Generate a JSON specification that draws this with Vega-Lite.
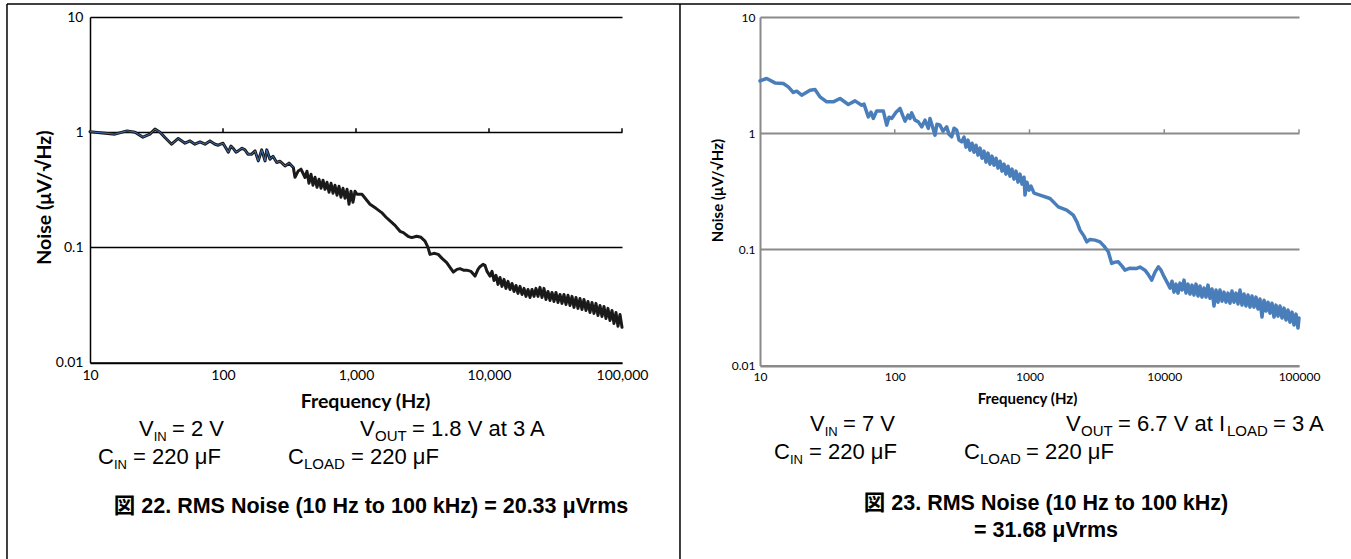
{
"$schema": "https://vega.github.io/schema/vega-lite/v6.json",
"autosize": "none",
"padding": {"left": 90, "top": 17, "right": 1261, "bottom": 542},
"background": "white",
"bounds": "flush",
"spacing": 138,
"config": {"view": {"stroke": null}, "font": "Lato"},
"data": {"values": [{"note": "annotation"}]},
"datasets": {
"left": [
{"f":10,"n":1.010},{"f":11.9,"n":0.990},{"f":15.4,"n":0.961},{"f":19.0,"n":1.026},{"f":21.8,"n":1.0},{"f":25.0,"n":0.905},{"f":28.2,"n":0.961},{"f":30.8,"n":1.062},{"f":33.6,"n":1.0},{"f":36.6,"n":0.899},{"f":41.1,"n":0.786},{"f":46.1,"n":0.882},{"f":51.8,"n":0.802},{"f":56.5,"n":0.840},{"f":61.5,"n":0.786},{"f":67.2,"n":0.823},{"f":73.2,"n":0.786},{"f":79.8,"n":0.840},{"f":87.1,"n":0.786},{"f":92.2,"n":0.770},{"f":100,"n":0.802},{"f":105.4,"n":0.726},{"f":109.7,"n":0.670},{"f":114.8,"n":0.756},{"f":119.5,"n":0.722},{"f":125.2,"n":0.670},{"f":130.3,"n":0.688},{"f":139,"n":0.726},{"f":146.3,"n":0.702},{"f":154,"n":0.644},{"f":164.4,"n":0.644},{"f":174.2,"n":0.688},{"f":184.2,"n":0.563},{"f":195.4,"n":0.702},{"f":207,"n":0.563},{"f":213.2,"n":0.702},{"f":225.5,"n":0.582},{"f":237.7,"n":0.618},{"f":253.5,"n":0.545},{"f":268.5,"n":0.559},{"f":292.7,"n":0.509},{"f":313.6,"n":0.538},{"f":337.9,"n":0.493},{"f":347.7,"n":0.406},{"f":368.2,"n":0.461},{"f":385.8,"n":0.477},{"f":413.7,"n":0.404},
{"f":428,"n":0.458},{"f":443,"n":0.360},{"f":459,"n":0.431},{"f":475,"n":0.346},{"f":492,"n":0.406},{"f":509,"n":0.332},{"f":527,"n":0.390},{"f":546,"n":0.326},{"f":565,"n":0.383},{"f":585,"n":0.319},{"f":605,"n":0.367},{"f":627,"n":0.301},{"f":649,"n":0.360},{"f":672,"n":0.295},{"f":695,"n":0.346},{"f":720,"n":0.283},{"f":745,"n":0.339},{"f":771,"n":0.272},{"f":798,"n":0.326},{"f":827,"n":0.267},{"f":856,"n":0.319},{"f":886,"n":0.2365},{"f":917,"n":0.307},{"f":949,"n":0.246},{"f":983,"n":0.307},{"f":1018,"n":0.289},
{"f":1109,"n":0.289},{"f":1274,"n":0.2365},{"f":1413,"n":0.218},{"f":1560,"n":0.2003},{"f":1682,"n":0.1824},{"f":1803,"n":0.1694},{"f":1965,"n":0.1552},{"f":2142,"n":0.1377},{"f":2269,"n":0.1342},{"f":2461,"n":0.1247},{"f":2624,"n":0.1215},{"f":2860,"n":0.1247},{"f":3080,"n":0.1222},{"f":3302,"n":0.1134},{"f":3477,"n":0.1},{"f":3599,"n":0.0869},{"f":3857,"n":0.0887},{"f":4155,"n":0.0869},{"f":4433,"n":0.0802},{"f":4808,"n":0.0736},{"f":5093,"n":0.0670},{"f":5395,"n":0.0610},{"f":5746,"n":0.0644},{"f":6053,"n":0.0653},{"f":6487,"n":0.0631},{"f":6797,"n":0.0634},{"f":7324,"n":0.0618},{"f":7850,"n":0.0563},{"f":8265,"n":0.0644},{"f":8557,"n":0.0679},{"f":9016,"n":0.0711},{"f":9333,"n":0.0697},{"f":9669,"n":0.0618},{"f":10185,"n":0.0563},
{"f":10534,"n":0.0618},{"f":10904,"n":0.0516},{"f":11287,"n":0.0571},{"f":11686,"n":0.0477},{"f":12094,"n":0.0548},{"f":12520,"n":0.0458},{"f":12963,"n":0.0527},{"f":13418,"n":0.0440},{"f":13895,"n":0.0506},{"f":14383,"n":0.0431},{"f":14891,"n":0.0486},{"f":15417,"n":0.0414},{"f":15959,"n":0.0467},{"f":16519,"n":0.0398},{"f":17104,"n":0.0458},{"f":17706,"n":0.0390},{"f":18334,"n":0.0440},{"f":18976,"n":0.0375},{"f":19643,"n":0.0431},{"f":20336,"n":0.0367},{"f":21052,"n":0.0431},{"f":21793,"n":0.0375},{"f":22562,"n":0.0440},{"f":23357,"n":0.0375},{"f":24180,"n":0.0449},{"f":25030,"n":0.0367},{"f":25911,"n":0.0440},{"f":26827,"n":0.0353},{"f":27771,"n":0.0414},{"f":28746,"n":0.0346},{"f":29760,"n":0.0406},{"f":30808,"n":0.0339},{"f":31898,"n":0.0406},{"f":33020,"n":0.0332},{"f":34180,"n":0.0390},{"f":35388,"n":0.0326},{"f":36633,"n":0.0390},{"f":37921,"n":0.0319},{"f":39262,"n":0.0383},{"f":40644,"n":0.0313},{"f":42076,"n":0.0375},{"f":43556,"n":0.0301},{"f":45087,"n":0.0367},{"f":46680,"n":0.0295},{"f":48323,"n":0.0360},{"f":50023,"n":0.0289},{"f":51790,"n":0.0353},{"f":53610,"n":0.0283},{"f":55503,"n":0.0339},{"f":57456,"n":0.0272},{"f":59475,"n":0.0332},{"f":61577,"n":0.0267},{"f":63743,"n":0.0326},{"f":65983,"n":0.0256},{"f":68313,"n":0.0313},{"f":70717,"n":0.0251},{"f":73214,"n":0.0307},{"f":75791,"n":0.0241},{"f":78455,"n":0.0295},{"f":81226,"n":0.0232},{"f":84084,"n":0.0283},{"f":87040,"n":0.0218},{"f":90114,"n":0.0272},{"f":93285,"n":0.0206},{"f":96605,"n":0.0261},{"f":100000,"n":0.0202}
],
"right": [
{"f":10,"n":2.819},{"f":11.21,"n":2.956},{"f":12.92,"n":2.709},{"f":14.89,"n":2.677},{"f":16.22,"n":2.503},{"f":17.67,"n":2.240},{"f":18.73,"n":2.298},{"f":20.39,"n":2.123},{"f":23.5,"n":2.345},{"f":25.6,"n":2.378},{"f":27.88,"n":2.053},{"f":31.26,"n":1.860},{"f":34.99,"n":1.860},{"f":39.25,"n":1.989},{"f":45.22,"n":1.766},{"f":50.7,"n":1.897},{"f":56.85,"n":1.742},{"f":59.13,"n":1.777},{"f":63.65,"n":1.381},{"f":66.65,"n":1.516},{"f":69.32,"n":1.338},{"f":73.45,"n":1.555},{"f":82.22,"n":1.555},{"f":87.15,"n":1.172},{"f":90.65,"n":1.373},{"f":94.93,"n":1.338},{"f":102.2,"n":1.516},{"f":109.4,"n":1.632},{"f":115.1,"n":1.400},{"f":119.2,"n":1.268},{"f":125.4,"n":1.428},{"f":129.8,"n":1.338},{"f":133.6,"n":1.495},{"f":141.4,"n":1.294},{"f":149.6,"n":1.251},{"f":158.5,"n":1.133},{"f":167.7,"n":1.294},{"f":177.4,"n":1.098},{"f":182.6,"n":1.338},{"f":192.2,"n":1.104},{"f":198.9,"n":0.961},{"f":205.8,"n":1.195},{"f":216.7,"n":1.172},{"f":228.1,"n":1.040},{"f":242.9,"n":1.133},{"f":252.6,"n":0.980},{"f":264.6,"n":0.929},{"f":275.4,"n":1.104},{"f":288.4,"n":1.061},{"f":299.9,"n":0.871},{"f":313.9,"n":0.841},
{"f":326.5,"n":0.924},{"f":337.9,"n":0.758},{"f":349.7,"n":0.871},{"f":361.8,"n":0.714},{"f":374.4,"n":0.820},{"f":387.4,"n":0.686},{"f":400.9,"n":0.788},{"f":414.8,"n":0.647},{"f":429.3,"n":0.743},{"f":444.2,"n":0.609},{"f":459.6,"n":0.700},{"f":475.6,"n":0.563},{"f":492.1,"n":0.673},{"f":509.2,"n":0.541},{"f":526.9,"n":0.634},{"f":545.2,"n":0.530},{"f":564.2,"n":0.609},{"f":583.8,"n":0.500},{"f":604.1,"n":0.574},{"f":625.1,"n":0.471},{"f":646.9,"n":0.541},{"f":669.3,"n":0.444},{"f":692.5,"n":0.520},{"f":716.6,"n":0.426},{"f":741.6,"n":0.490},{"f":767.4,"n":0.402},{"f":794,"n":0.471},{"f":821.7,"n":0.379},{"f":850.2,"n":0.444},{"f":879.6,"n":0.364},{"f":910.3,"n":0.418},{"f":926,"n":0.293},{"f":958.1,"n":0.379},{"f":991.5,"n":0.323},{"f":1026,"n":0.350},{"f":1080,"n":0.305},
{"f":1197,"n":0.293},{"f":1420,"n":0.274},{"f":1636,"n":0.232},{"f":1889,"n":0.2175},{"f":2113,"n":0.197},{"f":2252,"n":0.1714},{"f":2370,"n":0.1463},{"f":2539,"n":0.1299},{"f":2659,"n":0.1160},{"f":2812,"n":0.1217},{"f":3063,"n":0.1200},{"f":3336,"n":0.1160},{"f":3573,"n":0.1066},{"f":3844,"n":0.0952},{"f":4074,"n":0.0756},{"f":4310,"n":0.0776},{"f":4560,"n":0.0781},{"f":4860,"n":0.0717},{"f":5112,"n":0.0662},{"f":5569,"n":0.0689},{"f":6245,"n":0.0685},{"f":6607,"n":0.0703},{"f":7196,"n":0.0662},{"f":7575,"n":0.0612},{"f":8070,"n":0.0543},{"f":8540,"n":0.0637},{"f":9036,"n":0.0707},{"f":9461,"n":0.0662},{"f":9838,"n":0.0600},{"f":10481,"n":0.0522},
{"f":11033,"n":0.0464},{"f":11416,"n":0.0532},{"f":11814,"n":0.0428},{"f":12224,"n":0.0502},{"f":12647,"n":0.0420},{"f":13090,"n":0.0512},{"f":13544,"n":0.0446},{"f":14016,"n":0.0543},{"f":14502,"n":0.0420},{"f":15008,"n":0.0502},{"f":15529,"n":0.0412},{"f":16067,"n":0.0492},{"f":16627,"n":0.0404},{"f":17204,"n":0.0502},{"f":17804,"n":0.0396},{"f":18422,"n":0.0483},{"f":19061,"n":0.0388},{"f":19724,"n":0.0464},{"f":20408,"n":0.0388},{"f":21120,"n":0.0492},{"f":21852,"n":0.0380},{"f":22614,"n":0.0455},{"f":23398,"n":0.0325},{"f":24210,"n":0.0446},{"f":25053,"n":0.0351},{"f":25923,"n":0.0446},{"f":26827,"n":0.0358},{"f":27758,"n":0.0428},{"f":28726,"n":0.0351},{"f":29722,"n":0.0420},{"f":30753,"n":0.0344},{"f":31824,"n":0.0437},{"f":32928,"n":0.0351},{"f":34075,"n":0.0420},{"f":35258,"n":0.0338},{"f":36485,"n":0.0446},{"f":37751,"n":0.0331},{"f":39062,"n":0.0412},{"f":40423,"n":0.0325},{"f":41826,"n":0.0404},{"f":43282,"n":0.0318},{"f":44784,"n":0.0396},{"f":46338,"n":0.0318},{"f":47952,"n":0.0388},{"f":49616,"n":0.0306},{"f":51345,"n":0.0373},{"f":53126,"n":0.0261},{"f":54977,"n":0.0365},{"f":56885,"n":0.0294},{"f":58859,"n":0.0351},{"f":60910,"n":0.0282},{"f":63024,"n":0.0344},{"f":65220,"n":0.0261},{"f":67483,"n":0.0331},{"f":69835,"n":0.0266},{"f":72259,"n":0.0325},{"f":74766,"n":0.0256},{"f":77371,"n":0.0312},{"f":80055,"n":0.0246},{"f":82846,"n":0.0300},{"f":85720,"n":0.0236},{"f":88707,"n":0.0288},{"f":91821,"n":0.0223},{"f":95003,"n":0.0277},{"f":98311,"n":0.0210},{"f":100000,"n":0.0256}
],
"decades": [{"f":100},{"f":1000},{"f":10000},{"f":100000}]
},
"hconcat": [
{
"width": 532, "height": 345.5,
"layer": [
{"data":{"name":"left"},"mark":{"type":"line","color":"#1a1a1a","strokeWidth":3,"strokeJoin":"round","strokeCap":"round"},
"encoding":{
"x":{"field":"f","type":"quantitative","scale":{"type":"log","domain":[10,100000]},"axis":{"values":[10,100,1000,10000,100000],"format":",","grid":false,"ticks":false,"domainColor":"black","domainWidth":1.5,"labelFont":"Lato","labelFontSize":14,"labelColor":"black","labelPadding":6,"labelFlush":false,"labelOverlap":false,"title":"Frequency (Hz)","titleFont":"Lato","titleFontSize":19.5,"titleFontWeight":"bold","titleColor":"black","titleX":275,"titleY":39,"titleAlign":"center","titleBaseline":"middle"}},
"y":{"field":"n","type":"quantitative","scale":{"type":"log","domain":[0.01,10]},"axis":{"values":[0.01,0.1,1,10],"format":"~g","grid":true,"gridColor":"black","gridWidth":1.5,"ticks":false,"domainColor":"black","domainWidth":1.5,"labelFont":"Lato","labelFontSize":14,"labelColor":"black","labelPadding":7,"labelOverlap":false,"title":"Noise  (μV/√Hz)","titleFont":"Lato","titleFontSize":19.5,"titleFontWeight":"bold","titleColor":"black","titleX":-46,"titleY":180,"titleAngle":-90,"titleAlign":"center","titleBaseline":"middle"}}
}},
{"data":{"name":"left"},"transform":[{"filter":"datum.f < 340"}],"mark":{"type":"line","color":"#3d6fb6","strokeWidth":1},
"encoding":{"x":{"field":"f","type":"quantitative","scale":{"type":"log","domain":[10,100000]}},"y":{"field":"n","type":"quantitative","scale":{"type":"log","domain":[0.01,10]}}}},
{"data":{"name":"decades"},"mark":{"type":"rule","color":"black","strokeWidth":1.5},
"encoding":{"x":{"field":"f","type":"quantitative","scale":{"type":"log","domain":[10,100000]}},"y":{"datum":1,"type":"quantitative","scale":{"type":"log","domain":[0.01,10]}},"y2":{"datum":1.08}}},
{"mark":{"type":"rule","color":"black","strokeWidth":1.5},"encoding":{"x":{"datum":2.376,"type":"quantitative","scale":{"type":"log","domain":[10,100000]}},"y":{"datum":12.97,"type":"quantitative","scale":{"type":"log","domain":[0.01,10]}},"y2":{"datum":0.0000867}}},
{"mark":{"type":"rule","color":"black","strokeWidth":1.5},"encoding":{"x":{"datum":2.376,"type":"quantitative","scale":{"type":"log","domain":[10,100000]}},"x2":{"datum":272900},"y":{"datum":12.97,"type":"quantitative","scale":{"type":"log","domain":[0.01,10]}}}},
{"mark":{"type":"rule","color":"black","strokeWidth":1.5},"encoding":{"x":{"datum":272900,"type":"quantitative","scale":{"type":"log","domain":[10,100000]}},"y":{"datum":12.97,"type":"quantitative","scale":{"type":"log","domain":[0.01,10]}},"y2":{"datum":0.0000867}}},
{"mark":{"type":"text","text":"V","align":"left","baseline":"alphabetic","font":"Liberation Sans","fontSize":22,"color":"black"},"encoding":{"x":{"datum":23.36,"type":"quantitative","scale":{"type":"log","domain":[10,100000]}},"y":{"datum":0.002301,"type":"quantitative","scale":{"type":"log","domain":[0.01,10]}}}},
{"mark":{"type":"text","text":"IN","align":"left","baseline":"alphabetic","font":"Liberation Sans","fontSize":13,"dy":5,"color":"black"},"encoding":{"x":{"datum":30.1,"type":"quantitative","scale":{"type":"log","domain":[10,100000]}},"y":{"datum":0.002301,"type":"quantitative","scale":{"type":"log","domain":[0.01,10]}}}},
{"mark":{"type":"text","text":"= 2 V","align":"left","baseline":"alphabetic","font":"Liberation Sans","fontSize":22,"color":"black"},"encoding":{"x":{"datum":41.35,"type":"quantitative","scale":{"type":"log","domain":[10,100000]}},"y":{"datum":0.002301,"type":"quantitative","scale":{"type":"log","domain":[0.01,10]}}}},
{"mark":{"type":"text","text":"V","align":"left","baseline":"alphabetic","font":"Liberation Sans","fontSize":22,"color":"black"},"encoding":{"x":{"datum":1072,"type":"quantitative","scale":{"type":"log","domain":[10,100000]}},"y":{"datum":0.002301,"type":"quantitative","scale":{"type":"log","domain":[0.01,10]}}}},
{"mark":{"type":"text","text":"OUT","align":"left","baseline":"alphabetic","font":"Liberation Sans","fontSize":15,"dy":5,"color":"black"},"encoding":{"x":{"datum":1390,"type":"quantitative","scale":{"type":"log","domain":[10,100000]}},"y":{"datum":0.002301,"type":"quantitative","scale":{"type":"log","domain":[0.01,10]}}}},
{"mark":{"type":"text","text":"= 1.8 V at 3 A","align":"left","baseline":"alphabetic","font":"Liberation Sans","fontSize":22,"color":"black"},"encoding":{"x":{"datum":2637,"type":"quantitative","scale":{"type":"log","domain":[10,100000]}},"y":{"datum":0.002301,"type":"quantitative","scale":{"type":"log","domain":[0.01,10]}}}},
{"mark":{"type":"text","text":"C","align":"left","baseline":"alphabetic","font":"Liberation Sans","fontSize":22,"color":"black"},"encoding":{"x":{"datum":11.49,"type":"quantitative","scale":{"type":"log","domain":[10,100000]}},"y":{"datum":0.001315,"type":"quantitative","scale":{"type":"log","domain":[0.01,10]}}}},
{"mark":{"type":"text","text":"IN","align":"left","baseline":"alphabetic","font":"Liberation Sans","fontSize":13,"dy":5,"color":"black"},"encoding":{"x":{"datum":15.15,"type":"quantitative","scale":{"type":"log","domain":[10,100000]}},"y":{"datum":0.001315,"type":"quantitative","scale":{"type":"log","domain":[0.01,10]}}}},
{"mark":{"type":"text","text":"= 220 μF","align":"left","baseline":"alphabetic","font":"Liberation Sans","fontSize":22,"color":"black"},"encoding":{"x":{"datum":21.05,"type":"quantitative","scale":{"type":"log","domain":[10,100000]}},"y":{"datum":0.001315,"type":"quantitative","scale":{"type":"log","domain":[0.01,10]}}}},
{"mark":{"type":"text","text":"C","align":"left","baseline":"alphabetic","font":"Liberation Sans","fontSize":22,"color":"black"},"encoding":{"x":{"datum":308.1,"type":"quantitative","scale":{"type":"log","domain":[10,100000]}},"y":{"datum":0.001315,"type":"quantitative","scale":{"type":"log","domain":[0.01,10]}}}},
{"mark":{"type":"text","text":"LOAD","align":"left","baseline":"alphabetic","font":"Liberation Sans","fontSize":15,"dy":5,"color":"black"},"encoding":{"x":{"datum":406.4,"type":"quantitative","scale":{"type":"log","domain":[10,100000]}},"y":{"datum":0.001315,"type":"quantitative","scale":{"type":"log","domain":[0.01,10]}}}},
{"mark":{"type":"text","text":"= 220 μF","align":"left","baseline":"alphabetic","font":"Liberation Sans","fontSize":22,"color":"black"},"encoding":{"x":{"datum":917,"type":"quantitative","scale":{"type":"log","domain":[10,100000]}},"y":{"datum":0.001315,"type":"quantitative","scale":{"type":"log","domain":[0.01,10]}}}},
{"mark":{"type":"text","text":"図 22. RMS Noise (10 Hz to 100 kHz) = 20.33 μVrms","align":"center","baseline":"alphabetic","font":"Liberation Sans, Noto Sans CJK JP","fontSize":21.5,"fontWeight":"bold","color":"black"},"encoding":{"x":{"datum":1297,"type":"quantitative","scale":{"type":"log","domain":[10,100000]}},"y":{"datum":0.000494,"type":"quantitative","scale":{"type":"log","domain":[0.01,10]}}}}
]
},
{
"width": 539, "height": 348.5,
"layer": [
{"data":{"name":"right"},"mark":{"type":"line","color":"#4a7ebb","strokeWidth":3.5,"strokeJoin":"round","strokeCap":"round"},
"encoding":{
"x":{"field":"f","type":"quantitative","scale":{"type":"log","domain":[10,100000]},"axis":{"values":[10,100,1000,10000,100000],"format":"d","grid":false,"ticks":false,"domainColor":"#8a8a8a","domainWidth":2,"labelFont":"Lato","labelFontSize":12,"labelColor":"black","labelPadding":6,"labelFlush":false,"labelOverlap":false,"title":"Frequency (Hz)","titleFont":"Lato","titleFontSize":15,"titleFontWeight":"bold","titleColor":"black","titleX":267,"titleY":33,"titleAlign":"center","titleBaseline":"middle"}},
"y":{"field":"n","type":"quantitative","scale":{"type":"log","domain":[0.01,10]},"axis":{"values":[0.01,0.1,1,10],"format":"~g","grid":true,"gridColor":"#8a8a8a","gridWidth":2,"ticks":false,"domainColor":"#8a8a8a","domainWidth":2,"labelFont":"Lato","labelFontSize":12,"labelColor":"black","labelPadding":5,"labelOverlap":false,"title":"Noise (μV/√Hz)","titleFont":"Lato","titleFontSize":15,"titleFontWeight":"bold","titleColor":"black","titleX":-43,"titleY":173,"titleAngle":-90,"titleAlign":"center","titleBaseline":"middle"}}
}},
{"data":{"name":"decades"},"mark":{"type":"rule","color":"#8a8a8a","strokeWidth":1.5},
"encoding":{"x":{"field":"f","type":"quantitative","scale":{"type":"log","domain":[10,100000]}},"y":{"datum":1,"type":"quantitative","scale":{"type":"log","domain":[0.01,10]}},"y2":{"datum":1.08}}},
{"mark":{"type":"rule","color":"black","strokeWidth":1.5},"encoding":{"x":{"datum":2.549,"type":"quantitative","scale":{"type":"log","domain":[10,100000]}},"x2":{"datum":243200},"y":{"datum":12.94,"type":"quantitative","scale":{"type":"log","domain":[0.01,10]}}}},
{"mark":{"type":"text","text":"V","align":"left","baseline":"alphabetic","font":"Liberation Sans","fontSize":22,"color":"black"},"encoding":{"x":{"datum":23.5,"type":"quantitative","scale":{"type":"log","domain":[10,100000]}},"y":{"datum":0.00273,"type":"quantitative","scale":{"type":"log","domain":[0.01,10]}}}},
{"mark":{"type":"text","text":"IN","align":"left","baseline":"alphabetic","font":"Liberation Sans","fontSize":13,"dy":5,"color":"black"},"encoding":{"x":{"datum":30.2,"type":"quantitative","scale":{"type":"log","domain":[10,100000]}},"y":{"datum":0.00273,"type":"quantitative","scale":{"type":"log","domain":[0.01,10]}}}},
{"mark":{"type":"text","text":"= 7 V","align":"left","baseline":"alphabetic","font":"Liberation Sans","fontSize":22,"color":"black"},"encoding":{"x":{"datum":41.3,"type":"quantitative","scale":{"type":"log","domain":[10,100000]}},"y":{"datum":0.00273,"type":"quantitative","scale":{"type":"log","domain":[0.01,10]}}}},
{"mark":{"type":"text","text":"V","align":"left","baseline":"alphabetic","font":"Liberation Sans","fontSize":22,"color":"black"},"encoding":{"x":{"datum":1866,"type":"quantitative","scale":{"type":"log","domain":[10,100000]}},"y":{"datum":0.00273,"type":"quantitative","scale":{"type":"log","domain":[0.01,10]}}}},
{"mark":{"type":"text","text":"OUT","align":"left","baseline":"alphabetic","font":"Liberation Sans","fontSize":15,"dy":5,"color":"black"},"encoding":{"x":{"datum":2412,"type":"quantitative","scale":{"type":"log","domain":[10,100000]}},"y":{"datum":0.00273,"type":"quantitative","scale":{"type":"log","domain":[0.01,10]}}}},
{"mark":{"type":"text","text":"= 6.7 V at I","align":"left","baseline":"alphabetic","font":"Liberation Sans","fontSize":22,"color":"black"},"encoding":{"x":{"datum":4538,"type":"quantitative","scale":{"type":"log","domain":[10,100000]}},"y":{"datum":0.00273,"type":"quantitative","scale":{"type":"log","domain":[0.01,10]}}}},
{"mark":{"type":"text","text":"LOAD","align":"left","baseline":"alphabetic","font":"Liberation Sans","fontSize":15,"dy":5,"color":"black"},"encoding":{"x":{"datum":29230,"type":"quantitative","scale":{"type":"log","domain":[10,100000]}},"y":{"datum":0.00273,"type":"quantitative","scale":{"type":"log","domain":[0.01,10]}}}},
{"mark":{"type":"text","text":"= 3 A","align":"left","baseline":"alphabetic","font":"Liberation Sans","fontSize":22,"color":"black"},"encoding":{"x":{"datum":64140,"type":"quantitative","scale":{"type":"log","domain":[10,100000]}},"y":{"datum":0.00273,"type":"quantitative","scale":{"type":"log","domain":[0.01,10]}}}},
{"mark":{"type":"text","text":"C","align":"left","baseline":"alphabetic","font":"Liberation Sans","fontSize":22,"color":"black"},"encoding":{"x":{"datum":12.70,"type":"quantitative","scale":{"type":"log","domain":[10,100000]}},"y":{"datum":0.001568,"type":"quantitative","scale":{"type":"log","domain":[0.01,10]}}}},
{"mark":{"type":"text","text":"IN","align":"left","baseline":"alphabetic","font":"Liberation Sans","fontSize":13,"dy":5,"color":"black"},"encoding":{"x":{"datum":16.70,"type":"quantitative","scale":{"type":"log","domain":[10,100000]}},"y":{"datum":0.001568,"type":"quantitative","scale":{"type":"log","domain":[0.01,10]}}}},
{"mark":{"type":"text","text":"= 220 μF","align":"left","baseline":"alphabetic","font":"Liberation Sans","fontSize":22,"color":"black"},"encoding":{"x":{"datum":23.10,"type":"quantitative","scale":{"type":"log","domain":[10,100000]}},"y":{"datum":0.001568,"type":"quantitative","scale":{"type":"log","domain":[0.01,10]}}}},
{"mark":{"type":"text","text":"C","align":"left","baseline":"alphabetic","font":"Liberation Sans","fontSize":22,"color":"black"},"encoding":{"x":{"datum":326.5,"type":"quantitative","scale":{"type":"log","domain":[10,100000]}},"y":{"datum":0.001568,"type":"quantitative","scale":{"type":"log","domain":[0.01,10]}}}},
{"mark":{"type":"text","text":"LOAD","align":"left","baseline":"alphabetic","font":"Liberation Sans","fontSize":15,"dy":5,"color":"black"},"encoding":{"x":{"datum":429.3,"type":"quantitative","scale":{"type":"log","domain":[10,100000]}},"y":{"datum":0.001568,"type":"quantitative","scale":{"type":"log","domain":[0.01,10]}}}},
{"mark":{"type":"text","text":"= 220 μF","align":"left","baseline":"alphabetic","font":"Liberation Sans","fontSize":22,"color":"black"},"encoding":{"x":{"datum":942,"type":"quantitative","scale":{"type":"log","domain":[10,100000]}},"y":{"datum":0.001568,"type":"quantitative","scale":{"type":"log","domain":[0.01,10]}}}},
{"mark":{"type":"text","text":"図 23. RMS Noise (10 Hz to 100 kHz)","align":"center","baseline":"alphabetic","font":"Liberation Sans, Noto Sans CJK JP","fontSize":21.5,"fontWeight":"bold","color":"black"},"encoding":{"x":{"datum":1326,"type":"quantitative","scale":{"type":"log","domain":[10,100000]}},"y":{"datum":0.000571,"type":"quantitative","scale":{"type":"log","domain":[0.01,10]}}}},
{"mark":{"type":"text","text":"= 31.68 μVrms","align":"center","baseline":"alphabetic","font":"Liberation Sans, Noto Sans CJK JP","fontSize":21.5,"fontWeight":"bold","color":"black"},"encoding":{"x":{"datum":1326,"type":"quantitative","scale":{"type":"log","domain":[10,100000]}},"y":{"datum":0.000334,"type":"quantitative","scale":{"type":"log","domain":[0.01,10]}}}}
]
}
]
}
